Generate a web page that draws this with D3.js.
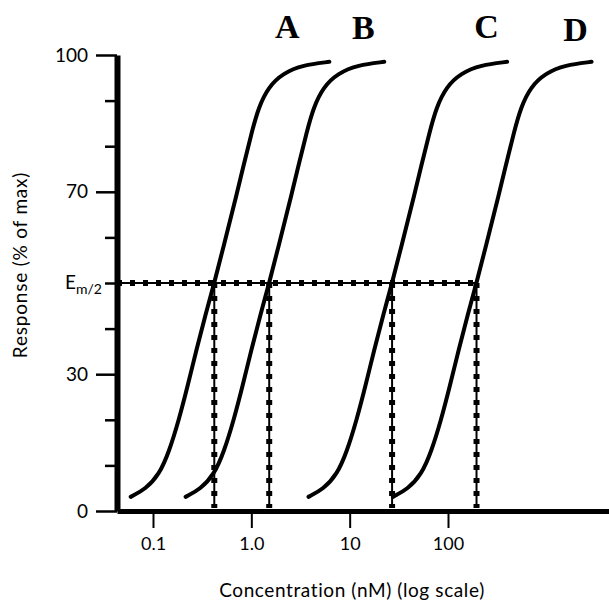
<!DOCTYPE html>
<html>
<head>
<meta charset="utf-8">
<script src="https://cdn.jsdelivr.net/npm/d3@7"></script>
<style>
  body { margin: 0; background: #fff; }
  svg { display: block; }
  .tick text { font-family: Lato, "DejaVu Sans", sans-serif; fill: #000; }
</style>
</head>
<body>
<script>
// curve names and their half-maximal concentrations (nM)
var curveNames = ["A", "B", "C", "D"];
var ec50 = [0.42, 1.52, 27, 195];

var shapeOffset = [-0.85, -0.70, -0.56, -0.46, -0.36, -0.27, -0.18, -0.09, 0, 0.10, 0.20, 0.30, 0.38, 0.45, 0.55, 0.70, 0.90, 1.17];
var shapeResponse = [3.1, 4.8, 8.0, 13.0, 20.0, 27.5, 35.5, 43.0, 50, 58.5, 67.0, 76.0, 83.0, 88.5, 93.0, 96.0, 97.8, 98.5];

// axis ticks
var xTicks = [0.1, 1, 10, 100];
var xTickLabels = ["0.1", "1.0", "10", "100"];
var yTicks = [0, 10, 20, 30, 40, 50, 60, 70, 80, 90, 100];
var yLabelled = [0, 30, 70, 100];
var halfMax = 50;

var width = 609, height = 604;

var svg = d3.select("body").append("svg")
  .attr("width", width)
  .attr("height", height);

//log x scale, fitted on the decade ticks then stretched to the full axis
var x = d3.scaleLog().domain([0.1, 100]).range([153, 448]);
x.domain([x.invert(117), x.invert(609)]).range([117, 609]);

var y = d3.scaleLinear().domain([0, 100]).range([511, 55]);

//x axis
var xAxis = svg.append("g")
  .attr("transform", "translate(0," + y(0) + ")")
  .call(d3.axisBottom(x)
    .tickValues(xTicks)
    .tickSize(17)
    .tickSizeOuter(0)
    .tickFormat(function(d, i){ return xTickLabels[i]; }));
xAxis.select(".domain").attr("stroke", "#000").attr("stroke-width", 5);
xAxis.selectAll(".tick line").attr("stroke-width", 2);
xAxis.selectAll(".tick text").attr("font-size", 18).attr("dy", "1.05em");

//y axis
var yAxis = svg.append("g")
  .attr("transform", "translate(" + x.range()[0] + ",0)")
  .call(d3.axisLeft(y)
    .tickValues(yTicks)
    .tickSizeOuter(0)
    .tickPadding(7)
    .tickFormat(function(d){ return yLabelled.indexOf(d) >= 0 ? d : ""; }));
yAxis.select(".domain").attr("stroke", "#000").attr("stroke-width", 6);
yAxis.selectAll(".tick line")
  .attr("stroke-width", 2.5)
  .attr("x2", function(d){ return yLabelled.indexOf(d) >= 0 ? -21 : -12; });
yAxis.selectAll(".tick text")
  .attr("font-size", 19)
  .attr("x", -29);

//E m/2 label at the half-maximal tick
var em = yAxis.append("text")
  .attr("x", -15)
  .attr("y", y(halfMax))
  .attr("dy", "0.32em")
  .attr("text-anchor", "end")
  .attr("font-family", "Lato, sans-serif")
  .attr("font-size", 19)
  .attr("fill", "#000");
em.append("tspan").text("E");
em.append("tspan").attr("font-size", 14).attr("dy", 5).text("m/2");

//dotted guide lines at half-maximal response
function dotted(x1, y1, x2, y2){
  svg.append("line")
    .attr("x1", x1).attr("y1", y1).attr("x2", x2).attr("y2", y2)
    .attr("stroke", "#000").attr("stroke-width", 2);
  svg.append("line")
    .attr("x1", x1).attr("y1", y1).attr("x2", x2).attr("y2", y2)
    .attr("stroke", "#000").attr("stroke-width", 6)
    .attr("stroke-dasharray", "5,8");
}
dotted(x.range()[0], y(halfMax), x(ec50[ec50.length - 1]), y(halfMax));
ec50.forEach(function(c){
  dotted(x(c), y(halfMax), x(c), y(0) - 3);
});

//dose-response curves
var line = d3.line()
  .x(function(d){ return x(d.c); })
  .y(function(d){ return y(d.r); })
  .curve(d3.curveBasis);

curveNames.forEach(function(name, i){
  var pts = shapeOffset.map(function(o, j){
    return {c: ec50[i] * Math.pow(10, o), r: shapeResponse[j]};
  });
  svg.append("path")
    .datum(pts)
    .attr("fill", "none")
    .attr("stroke", "#000")
    .attr("stroke-width", 4)
    .attr("stroke-linecap", "round")
    .attr("d", line);
});

//curve letters above the plateaus
var labelConc = [2.32, 13.8, 246, 1977];
var labelDrop = [0, 1, 0, 3];
svg.selectAll(".curveLabel")
  .data(curveNames)
  .enter()
  .append("text")
  .attr("class", "curveLabel")
  .attr("x", function(d, i){ return x(labelConc[i]); })
  .attr("y", function(d, i){ return 38 + labelDrop[i]; })
  .attr("text-anchor", "middle")
  .attr("font-family", "Liberation Serif, serif")
  .attr("font-weight", "bold")
  .attr("font-size", 34)
  .text(function(d){ return d; });

//axis titles
svg.append("text")
  .attr("x", 352)
  .attr("y", 597)
  .attr("text-anchor", "middle")
  .attr("font-family", "Lato, sans-serif")
  .attr("font-size", 19)
  .attr("letter-spacing", 0.6)
  .text("Concentration (nM) (log scale)");

svg.append("text")
  .attr("transform", "translate(27,265) rotate(-90)")
  .attr("text-anchor", "middle")
  .attr("font-family", "Lato, sans-serif")
  .attr("font-size", 19)
  .attr("letter-spacing", 0.8)
  .text("Response (% of max)");
</script>
</body>
</html>
